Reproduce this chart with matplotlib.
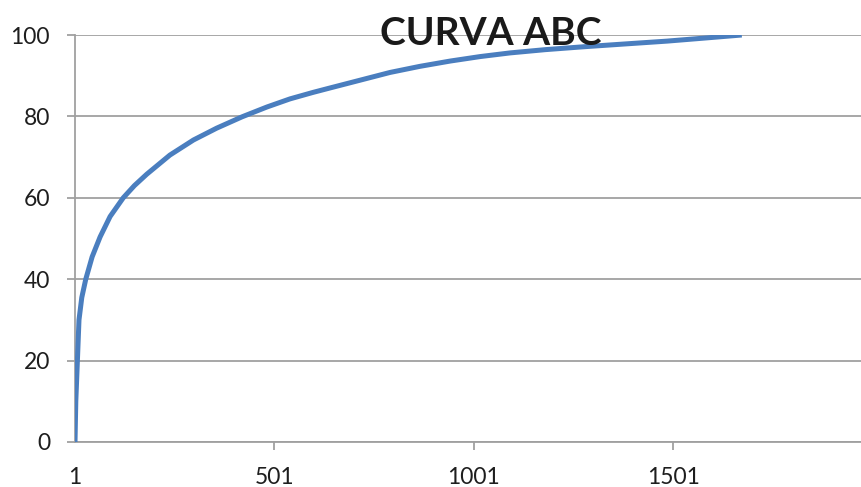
import numpy as np
import matplotlib.pyplot as plt

# cumulative share (%) by item rank
items = [1, 3, 7, 11, 18, 28, 44, 64, 89, 122, 150, 181, 239, 298, 356, 420, 482, 540,
         598, 641, 716, 791, 866, 942, 1017, 1092, 1180, 1275, 1380, 1486, 1580, 1673]
cum_pct = [0, 10, 20, 30, 35.5, 40, 45.5, 50.4, 55.4, 60, 63.0, 65.8, 70.5, 74.2, 77.1, 79.9,
           82.3, 84.3, 85.9, 87.0, 88.9, 90.8, 92.3, 93.6, 94.7, 95.6, 96.4, 97.1, 97.8,
           98.5, 99.25, 100]

xticks = [1, 501, 1001, 1501]
yticks = [0, 20, 40, 60, 80, 100]

plt.rcParams['font.family'] = ['Lato', 'DejaVu Sans']
gray = '#A0A0A0'

fig = plt.figure(figsize=(8.61, 4.87), dpi=100)
ax = fig.add_axes([75 / 861, 1 - 442 / 487, 1 - 75 / 861, (442 - 35) / 487])

ax.plot(items, cum_pct, color='#4A7EBF', lw=3.6, solid_capstyle='butt',
        solid_joinstyle='round', zorder=3)

ax.set_xlim(1, 1972)
ax.set_ylim(0, 100)
ax.set_xticks(xticks)
ax.set_yticks(yticks)
ax.grid(axis='y', color=gray, lw=1.3)
ax.set_axisbelow(True)

for s in ['top', 'right']:
    ax.spines[s].set_visible(False)
for s in ['left', 'bottom']:
    ax.spines[s].set_color(gray)
    ax.spines[s].set_linewidth(1.3)

ax.tick_params(axis='y', length=6, width=1.3, color=gray, pad=12, labelsize=16.5, labelcolor='#1e1e1e')
ax.tick_params(axis='x', length=6, width=1.3, color=gray, pad=12, labelsize=16.5, labelcolor='#1e1e1e')
ax.xaxis.get_major_ticks()[0].tick1line.set_visible(False)

fig.text(491 / 861, 1 - 33 / 487, 'CURVA ABC', ha='center', va='center',
         fontsize=28, fontweight='bold', color='#1a1a1a', zorder=5)

fig.savefig('out.png', dpi=100)
